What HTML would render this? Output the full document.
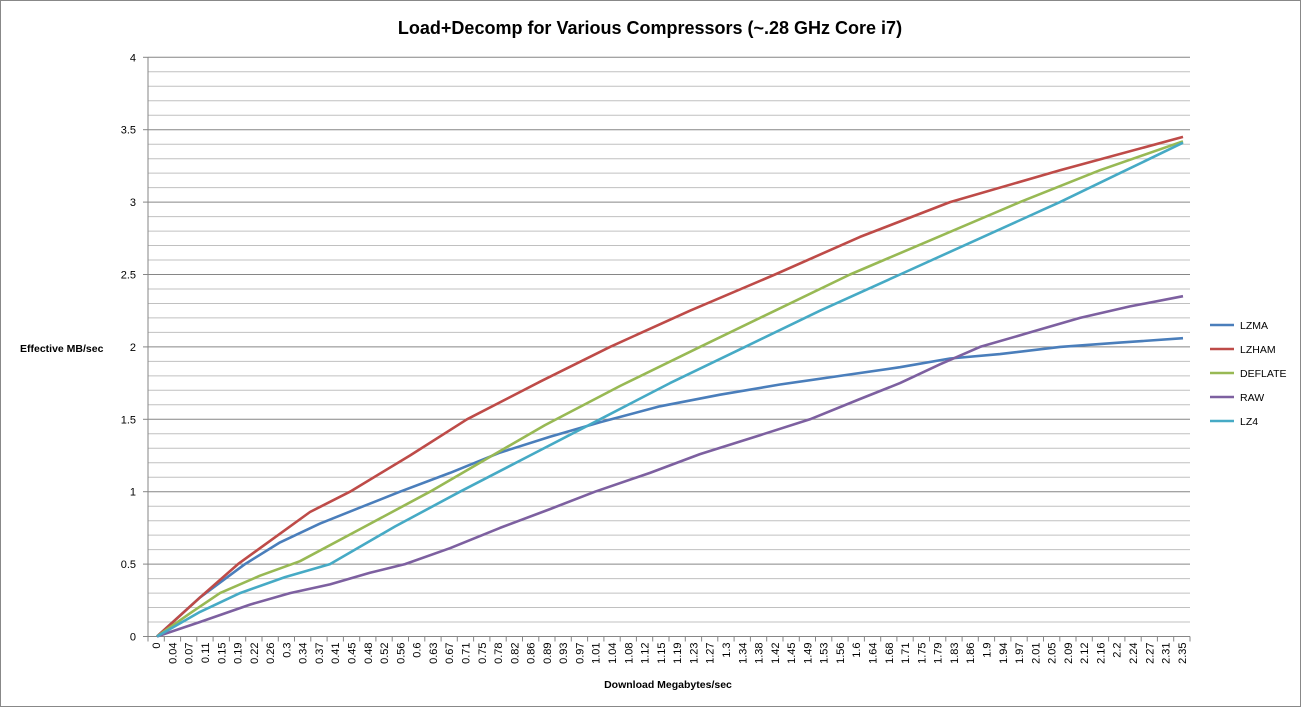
<!DOCTYPE html>
<html><head><meta charset="utf-8"><style>
html,body{margin:0;padding:0;background:#fff;}
svg{display:block;font-family:"Liberation Sans",sans-serif;}
</style></head><body>
<svg id="s" width="1302" height="708" xmlns="http://www.w3.org/2000/svg">
<rect x="0.5" y="0.5" width="1300" height="706" fill="#fff" stroke="#888"/>
<text x="650" y="34" text-anchor="middle" font-size="18" font-weight="bold">Load+Decomp for Various Compressors (~.28 GHz Core i7)</text>
<text x="20" y="352" font-size="10.5" font-weight="bold">Effective MB/sec</text>
<text x="668" y="688" text-anchor="middle" font-size="10.5" font-weight="bold">Download Megabytes/sec</text>
<g id="g"></g>
</svg>
<script>
var g=document.getElementById('g'),h='';
var L=148,R=1190,T=57.3,B=636.5,sc=(B-T)/4;
function Y(v){return B-v*sc;}
for(var i=1;i<=40;i++){var v=i/10,y=Y(v).toFixed(1),maj=(i%5==0);
 h+='<line x1="'+L+'" x2="'+R+'" y1="'+y+'" y2="'+y+'" stroke="'+(maj?'#868686':'#c0c0c0')+'" stroke-width="1"/>';}
for(var i=0;i<=8;i++){var v=i/2;h+='<text x="136" y="'+(Y(v)+4).toFixed(1)+'" text-anchor="end" font-size="11">'+(v)+'</text>';
 h+='<line x1="143" x2="'+L+'" y1="'+Y(v)+'" y2="'+Y(v)+'" stroke="#868686"/>';}
h+='<line x1="'+L+'" x2="'+L+'" y1="'+T+'" y2="'+B+'" stroke="#868686"/>';
h+='<line x1="'+L+'" x2="'+R+'" y1="'+B+'" y2="'+B+'" stroke="#868686"/>';
var labs="0,0.04,0.07,0.11,0.15,0.19,0.22,0.26,0.3,0.34,0.37,0.41,0.45,0.48,0.52,0.56,0.6,0.63,0.67,0.71,0.75,0.78,0.82,0.86,0.89,0.93,0.97,1.01,1.04,1.08,1.12,1.15,1.19,1.23,1.27,1.3,1.34,1.38,1.42,1.45,1.49,1.53,1.56,1.6,1.64,1.68,1.71,1.75,1.79,1.83,1.86,1.9,1.94,1.97,2.01,2.05,2.09,2.12,2.16,2.2,2.24,2.27,2.31,2.35".split(',');
var w=(R-L)/labs.length;
for(var i=0;i<=labs.length;i++){var x=(L+i*w).toFixed(1);h+='<line x1="'+x+'" x2="'+x+'" y1="'+B+'" y2="'+(B+5)+'" stroke="#868686"/>';}
for(var i=0;i<labs.length;i++){var x=L+(i+0.5)*w+4;h+='<text transform="translate('+x.toFixed(1)+','+(B+6)+') rotate(-90)" text-anchor="end" font-size="11">'+labs[i]+'</text>';}
var S=[
["LZMA","#4a7ebb",[[157,0],[200,0.27],[245,0.5],[280,0.65],[320,0.78],[360,0.89],[400,1],[450,1.13],[500,1.27],[550,1.38],[600,1.48],[660,1.59],[720,1.67],[780,1.74],[840,1.8],[900,1.86],[950,1.92],[1000,1.95],[1060,2],[1120,2.03],[1183,2.06]]],
["LZHAM","#be4b48",[[157,0],[200,0.27],[238,0.5],[270,0.66],[310,0.86],[350,1],[410,1.25],[467,1.5],[540,1.76],[610,2],[690,2.25],[775,2.5],[860,2.76],[950,3],[1060,3.22],[1183,3.45]]],
["DEFLATE","#98b954",[[157,0],[190,0.16],[220,0.3],[260,0.42],[300,0.52],[365,0.76],[430,1],[490,1.24],[545,1.46],[620,1.73],[700,2],[775,2.25],[850,2.5],[935,2.75],[1020,3],[1100,3.22],[1183,3.42]]],
["RAW","#7d60a0",[[157,0],[200,0.1],[250,0.22],[290,0.3],[330,0.36],[370,0.44],[405,0.5],[450,0.61],[500,0.75],[550,0.88],[595,1],[650,1.13],[700,1.26],[760,1.39],[810,1.5],[860,1.64],[900,1.75],[940,1.88],[980,2],[1030,2.1],[1080,2.2],[1130,2.28],[1183,2.35]]],
["LZ4","#46aac5",[[157,0],[200,0.17],[240,0.3],[285,0.41],[330,0.5],[395,0.76],[460,1],[530,1.25],[600,1.5],[670,1.75],[745,2],[820,2.25],[900,2.5],[980,2.75],[1060,3],[1120,3.2],[1183,3.41]]]
];
S.forEach(function(s,k){var p=s[2].map(function(q){return q[0]+','+Y(q[1]).toFixed(1)}).join(' ');
 h+='<polyline points="'+p+'" fill="none" stroke="'+s[1]+'" stroke-width="2.6" stroke-linejoin="round"/>';
 var ly=325+k*24;h+='<line x1="1210" x2="1234" y1="'+ly+'" y2="'+ly+'" stroke="'+s[1]+'" stroke-width="2.6"/>';
 h+='<text x="1240" y="'+(ly+4)+'" font-size="10.5">'+s[0]+'</text>';});
g.innerHTML=h;
</script>
</body></html>
